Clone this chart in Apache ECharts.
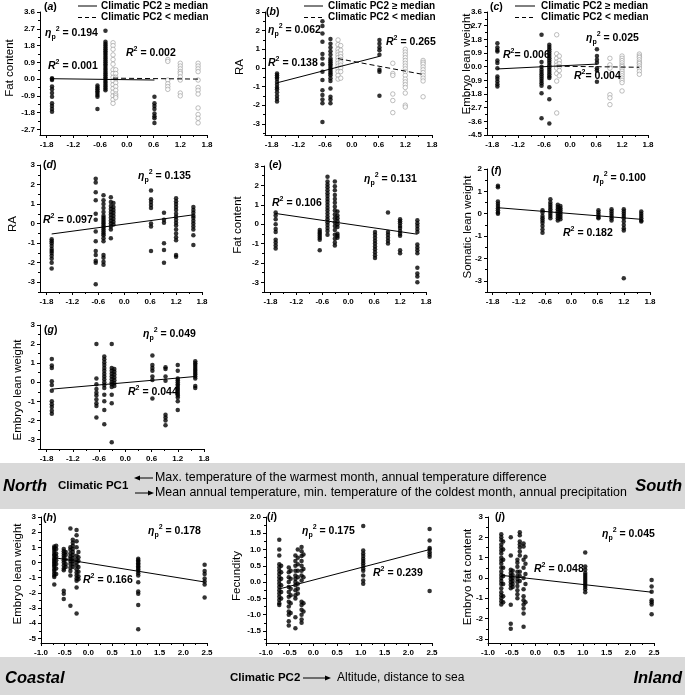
<!DOCTYPE html>
<html>
<head>
<meta charset="utf-8">
<script src="https://cdn.jsdelivr.net/npm/echarts@6.0.0/dist/echarts.min.js"></script>
<style>
html,body{margin:0;padding:0;background:#fff;}
#chart{width:685px;height:695px;}
</style>
</head>
<body>
<div id="chart"></div>
<script>
// ---------------- DATA ----------------
// Population positions along Climatic PC1 and Climatic PC2
const pc1Sites = [-1.68, -0.66, -0.48, -0.31, -0.25, 0.62, 0.92, 1.2, 1.6];
const pc2Sites = [-0.72, -0.68, -0.52, -0.48, -0.38, -0.33, -0.25, -0.21, 1.05, 2.45];

// tick labels
const xTicksPC1 = [-1.8, -1.2, -0.6, 0, 0.6, 1.2, 1.8];
const xTicksPC2 = [-1, -0.5, 0, 0.5, 1, 1.5, 2, 2.5];
const yTicksA = [-2.7, -1.8, -0.9, 0, 0.9, 1.8, 2.7, 3.6];
const yTicksB = [-3, -2, -1, 0, 1, 2, 3];
const yTicksC = [-4.5, -3.6, -2.7, -1.8, -0.9, 0, 0.9, 1.8, 2.7, 3.6];
const yTicksDEG = [-3, -2, -1, 0, 1, 2, 3];
const yTicksF = [-3, -2, -1, 0, 1, 2];
const yTicksH = [-5, -4, -3, -2, -1, 0, 1, 2, 3];
const yTicksI = [-1.5, -1.0, -0.5, 0, 0.5, 1.0, 1.5, 2.0];
const yTicksJ = [-3, -2, -1, 0, 1, 2, 3];

// (a) Fat content, split by PC2 median
const aHighX = [-1.68, -0.66, -0.48, 0.62];
const aHighY = [
  [0.05, 0.0, -0.05, -0.4, -0.55, -0.75, -0.95, -1.3, -1.45, -1.6, -1.75],
  [-0.35, -0.45, -0.55, -0.65, -0.75, -0.85, -0.95, -1.6],
  [2.6, 2.0, 1.9, 1.8, 1.7, 1.6, 1.5, 1.4, 1.3, 1.2, 1.1, 1.0, 0.9, 0.8, 0.7, 0.6, 0.5, 0.4, 0.3, 0.2, 0.1, 0.0, -0.1, -0.2, -0.3, -0.4, -0.5, -0.6],
  [-0.95, -1.3, -1.45, -1.6, -1.85, -2.0, -2.1, -2.35]
];
const aLowX = [-0.31, -0.25, 0.92, 1.2, 1.6];
const aLowY = [
  [1.95, 1.8, 1.6, 1.3, 1.05, 0.8, 0.5, 0.3, 0.1, -0.1, -0.3, -0.5, -0.7, -0.9, -1.1, -1.3],
  [0.5, 0.3, 0.1, 0.0, -0.2, -0.4, -0.6, -0.8, -0.9, -1.0],
  [1.05, 0.95, -0.05, -0.25, -0.4, -0.55],
  [0.85, 0.7, 0.55, 0.4, 0.3, 0.12, -0.05, -0.75, -0.9],
  [0.85, 0.7, 0.55, 0.4, -0.05, -0.45, -0.6, -0.8, -1.55, -1.9, -2.1, -2.35]
];
const aHighFit = [[-1.68, 0.02], [0.62, -0.05]];
const aLowFit = [[-0.31, 0.05], [1.6, 0.0]];

// (b) RA
const bHighX = [-1.68, -0.66, -0.48, 0.62];
const bHighY = [
  [-0.3, -0.4, -0.5, -0.6, -0.75, -0.9, -1.05, -1.15, -1.3, -1.5, -1.65, -1.8],
  [2.5, 2.25, 1.85, 1.4, 0.75, 0.5, 0.2, -0.2, -0.65, -1.2, -1.45, -1.7, -1.9, -2.9],
  [1.55, 1.3, 1.1, 0.9, 0.7, 0.5, 0.4, 0.3, 0.2, 0.1, 0.0, -0.1, -0.2, -0.3, -0.4, -0.55, -0.7, -1.1, -1.55, -1.7, -1.9],
  [1.5, 1.3, 1.1, 0.95, 0.7, -0.1, -0.2, -1.5]
];
const bLowX = [-0.31, -0.25, 0.92, 1.2, 1.6];
const bLowY = [
  [1.5, 1.25, 1.0, 0.85, 0.7, 0.55, 0.4, 0.25, 0.1, -0.05, -0.2, -0.4, -0.6],
  [1.2, 0.95, 0.75, 0.6, 0.45, 0.3, 0.15, 0.0, -0.2, -0.55],
  [0.25, -0.3, -0.4, -1.4, -1.75, -2.4],
  [1.0, 0.85, 0.7, 0.55, 0.4, 0.25, 0.1, -0.05, -0.2, -0.4, -0.6, -0.75, -0.9, -1.05, -1.35, -2.0, -2.1],
  [0.4, 0.3, 0.2, 0.05, -0.1, -0.25, -0.4, -0.55, -0.7, -1.55]
];
const bHighFit = [[-1.68, -0.8], [0.62, 0.62]];
const bLowFit = [[-0.31, 0.5], [1.6, -0.35]];

// (c) Embryo lean weight
const cHighX = [-1.68, -0.66, -0.48, 0.62];
const cHighY = [
  [1.55, 1.27, 1.1, 1.0, 0.4, 0.24, -0.1, -0.65, -0.8, -0.97, -1.15, -1.3],
  [2.1, 0.3, 0.0, -0.2, -0.35, -0.5, -0.65, -0.8, -0.95, -1.1, -1.25, -1.75, -3.4],
  [1.45, 1.3, 1.15, 1.0, 0.85, 0.7, 0.55, 0.4, 0.25, 0.1, -0.05, -0.2, -0.35, -0.5, -0.65, -0.75, -1.35, -2.15, -3.75],
  [1.15, 0.7, 0.45, 0.25, -0.1, -0.25, -1.0]
];
const cLowX = [-0.31, -0.25, 0.92, 1.2, 1.6];
const cLowY = [
  [2.1, 0.85, 0.55, 0.3, 0.1, -0.1, -0.45, -0.95, -3.05],
  [0.7, 0.4, 0.2, 0.0, -0.25, -0.6],
  [0.55, 0.12, -0.1, -1.85, -2.05, -2.5],
  [0.7, 0.55, 0.4, 0.25, 0.1, 0.0, -0.15, -0.3, -0.45, -0.6, -0.75, -0.9, -1.05, -1.6],
  [0.83, 0.7, 0.6, 0.45, 0.3, 0.2, 0.05, -0.1, -0.3, -0.5]
];
const cHighFit = [[-1.68, -0.15], [0.62, 0.17]];
const cLowFit = [[-0.31, 0.03], [1.6, -0.04]];

// (d) RA
const dY = [
  [-0.8, -0.9, -1.0, -1.15, -1.3, -1.4, -1.5, -1.65, -1.8, -2.0, -2.3],
  [2.3, 2.1, 1.6, 1.2, 0.5, 0.2, -0.4, -0.9, -1.4, -1.6, -1.9, -2.0, -3.1],
  [1.45, 1.2, 1.0, 0.8, 0.6, 0.4, 0.3, 0.2, 0.1, 0.0, -0.1, -0.2, -0.3, -0.4, -0.5, -0.6, -0.75, -0.9, -1.6, -1.75, -1.95, -2.1],
  [1.35, 1.1, 0.9, 0.75, 0.6, 0.45, 0.3, 0.15, 0.0, -0.15, -0.3, -0.75],
  [1.05, 0.85, 0.7, 0.55, 0.4, 0.25, 0.1, -0.05],
  [1.7, 1.25, 1.1, 0.95, 0.8, 0.0, -0.15, -1.4],
  [0.55, 0.2, 0.05, -1.0, -1.35, -2.0],
  [1.3, 1.15, 1.0, 0.85, 0.7, 0.5, 0.35, 0.2, 0.05, -0.1, -0.3, -0.5, -0.7, -0.85, -1.6, -1.7],
  [0.85, 0.7, 0.55, 0.4, 0.3, 0.15, 0.0, -0.15, -0.3, -0.6, -1.1]
];
const dFit = [[-1.68, -0.53], [1.6, 0.45]];

// (e) Fat content
const eY = [
  [0.6, 0.45, 0.25, 0.0, -0.25, -0.4, -0.8, -0.95, -1.1, -1.25],
  [-0.3, -0.4, -0.5, -0.6, -0.7, -0.8, -1.35],
  [2.45, 2.2, 2.05, 1.9, 1.75, 1.6, 1.45, 1.3, 1.15, 1.0, 0.85, 0.7, 0.55, 0.4, 0.25, 0.1, -0.05, -0.2, -0.35, -0.55],
  [2.2, 1.95, 1.75, 1.5, 1.3, 1.1, 0.9, 0.7, 0.5, 0.3, 0.1, -0.1, -0.3, -0.55, -0.75, -0.95, -1.1],
  [0.65, 0.45, 0.3, 0.15, 0.0, -0.15, -0.5, -0.6, -0.7],
  [-0.4, -0.55, -0.7, -0.85, -1.0, -1.15, -1.3, -1.45, -1.6, -1.75],
  [0.6, -0.4, -0.55, -0.7, -0.85, -1.0],
  [0.25, 0.15, 0.05, -0.1, -0.2, -0.35, -0.5, -0.6, -1.35, -1.5],
  [0.2, 0.05, -0.1, -0.25, -0.4, -1.05, -1.2, -1.35, -1.5, -2.25, -2.55, -2.7, -3.0]
];
const eFit = [[-1.68, 0.55], [1.6, -0.52]];

// (f) Somatic lean weight
const fY = [
  [1.25, 1.18, 0.55, 0.45, 0.35, 0.25, 0.15, 0.05, 0.0],
  [0.15, 0.05, -0.1, -0.2, -0.3, -0.4, -0.55, -0.7, -0.85],
  [0.65, 0.5, 0.4, 0.3, 0.2, 0.1, 0.0, -0.1, -0.2],
  [0.4, 0.3, 0.2, 0.1, 0.0, -0.1, -0.2, -0.3],
  [0.35, 0.25, 0.15, 0.05, -0.05, -0.15, -0.25],
  [0.15, 0.05, -0.05, -0.15, -0.2],
  [0.2, 0.1, 0.0, -0.1, -0.2, -0.3],
  [0.2, 0.1, 0.0, -0.1, -0.2, -0.35, -0.5, -0.65, -0.75, -2.88],
  [0.1, 0.0, -0.1, -0.2, -0.3, -0.35]
];
const fFit = [[-1.68, 0.27], [1.6, -0.25]];

// (g) Embryo lean weight
const gY = [
  [1.22, 0.88, 0.75, 0.05, -0.15, -0.45, -1.0, -1.15, -1.3, -1.5, -1.65],
  [2.0, 0.2, -0.1, -0.35, -0.55, -0.7, -0.9, -1.1, -1.25, -1.85],
  [1.35, 1.2, 1.05, 0.9, 0.75, 0.6, 0.45, 0.3, 0.15, 0.0, -0.15, -0.3, -0.65, -1.0, -1.45, -2.2],
  [2.0, 0.75, 0.6, 0.45, 0.3, 0.15, 0.0, -0.1, -0.25, -0.65, -1.1, -3.15],
  [0.7, 0.55, 0.4, 0.25, 0.1, -0.05, -0.2],
  [1.4, 0.9, 0.75, 0.6, 0.3, 0.12, -0.85],
  [0.78, 0.7, 0.3, 0.08, -1.7, -1.85, -2.0, -2.25],
  [0.9, 0.6, 0.2, 0.1, 0.0, -0.1, -0.2, -0.3, -0.4, -0.5, -0.6, -0.7, -0.8, -1.0, -1.45],
  [1.1, 1.0, 0.9, 0.8, 0.7, 0.6, 0.5, 0.4, 0.3, 0.2, -0.2, -0.3]
];
const gFit = [[-1.68, -0.36], [1.6, 0.3]];

// (h) Embryo lean weight vs PC2
const hY = [
  [1.05, 0.95, 0.85, 0.7, 0.55, 0.45, 0.3, 0.2, 0.1, 0.0, -0.1, -0.2, -0.3, -0.45, -0.55, -0.7, -0.85, -0.95, -1.45],
  [1.1, 0.9, 0.6, 0.4, 0.15, -0.1, -0.4, -0.75],
  [0.9, 0.75, 0.6, 0.45, 0.3, 0.15, 0.0, -0.2, -0.4, -0.5, -1.85, -2.05, -2.4],
  [0.7, 0.5, 0.2, -0.1, -0.3],
  [2.25, 1.0, 0.85, 0.6, 0.4, 0.25, 0.1, -0.1, -0.35, -0.55, -0.85, -2.85],
  [1.5, 1.3, 1.1, 0.9, 0.7, 0.5, 0.3, 0.1, -0.1, -0.3],
  [2.15, 1.8, 1.4, 1.0, 0.45, 0.2, 0.0, -0.2, -0.45, -0.65, -0.85, -1.05, -1.2, -1.65, -3.35],
  [0.7, 0.35, 0.1, -0.3, -0.6, -0.9, -1.1],
  [0.25, 0.15, 0.05, -0.05, -0.15, -0.25, -0.35, -0.45, -0.55, -0.7, -0.85, -1.3, -1.9, -2.05, -2.8, -4.4],
  [-0.15, -0.55, -0.75, -1.05, -1.25, -1.45, -2.3]
];
const hFit = [[-0.72, 0.32], [2.45, -1.28]];

// (i) Fecundity
const iY = [
  [1.3, 1.0, 0.82, 0.55, 0.45, 0.35, 0.25, 0.15, 0.05, -0.05, -0.15, -0.25, -0.35, -0.45, -0.55, -0.65, -0.7],
  [0.5, 0.3, 0.1, -0.1, -0.3, -0.5],
  [0.45, 0.3, 0.15, 0.0, -0.15, -0.3, -0.45, -0.6, -0.75, -0.9, -1.0, -1.2, -1.33],
  [0.35, 0.1, -0.2, -0.4, -0.65, -0.95],
  [0.82, 0.65, 0.5, 0.35, 0.2, 0.1, 0.0, -0.1, -0.25, -0.4, -0.5, -1.08, -1.42],
  [1.0, 0.75, 0.55, 0.35, 0.15, -0.05, -0.2, -0.35],
  [1.08, 0.95, 0.8, 0.65, 0.5, 0.35, 0.2, 0.05, -0.6, -0.7, -0.85, -1.0, -1.15, -1.25],
  [0.85, 0.4, 0.15, -0.65, -0.9],
  [1.72, 0.97, 0.88, 0.8, 0.72, 0.65, 0.58, 0.5, 0.42, 0.35, 0.2, 0.05, -0.05],
  [1.63, 1.28, 1.05, 1.0, 0.92, 0.85, 0.78, -0.27]
];
const iFit = [[-0.72, -0.21], [2.45, 1.0]];

// (j) Embryo fat content
const jY = [
  [2.15, 2.0, 1.85, 1.65, 1.5, 1.35, 1.2, 1.0, 0.85, 0.7, 0.5, 0.3, 0.15, 0.0, -0.15, -0.3, -0.5, -0.7, -0.85, -1.0, -1.15, -1.3],
  [1.8, 1.4, 0.9, 0.5, 0.1, -0.3, -0.9, -1.2],
  [2.0, 1.1, 0.4, 0.25, 0.1, -0.05, -0.2, -0.35, -0.5, -1.32, -2.25, -2.5],
  [0.35, 0.15, 0.0, -0.15, -0.3, -0.45],
  [0.9, 0.75, 0.55, 0.3, 0.1, -0.05, -0.2, -0.4, -0.6, -0.8, -1.0],
  [2.25, 2.1, 1.8, 1.65, 1.5, 1.3, 1.1, 0.3, 0.1, -0.15],
  [1.7, 1.55, 0.9, 0.5, 0.0, -0.55, -0.9, -1.1, -1.3, -1.5, -1.75, -2.4],
  [1.05, 0.7, 0.2, -0.3, -1.2],
  [1.25, 0.57, 0.4, 0.25, 0.15, 0.05, -0.05, -0.15, -0.25, -0.35, -0.45, -0.55, -0.7],
  [-0.1, -0.42, -0.68, -1.1, -1.2, -1.3, -1.78]
];
const jFit = [[-0.72, 0.13], [2.45, -0.7]];

// ---------------- BUILD ----------------
const FONT = "'Liberation Sans', Arial, Helvetica, sans-serif";

function cols(xs, ys) {
  const out = [];
  xs.forEach((x, i) => ys[i].forEach(y => out.push([x, y])));
  return out;
}
function minorOf(ticks, lo, hi) {
  const step = ticks[1] - ticks[0];
  const res = [];
  const first = ticks[0] - step / 2, last = ticks[ticks.length - 1] + step / 2;
  for (let v = first; v <= last + 1e-9; v += step) {
    const r = Math.round(v * 1000) / 1000;
    if (r >= lo - 1e-9 && r <= hi + 1e-9) res.push(r);
  }
  return res;
}

const panels = [
  {id: 'a', box: [40, 12, 207, 135], xr: [-1.95, 1.8], yr: [-3.0, 3.6], xt: xTicksPC1, yt: yTicksA, yd: 1,
   filled: cols(aHighX, aHighY), hollow: cols(aLowX, aLowY), fits: [[aHighFit, false], [aLowFit, true]],
   name: 'Fat content', namePos: [10, 68]},
  {id: 'b', box: [265, 12, 432, 135], xr: [-1.95, 1.8], yr: [-3.6, 3], xt: xTicksPC1, yt: yTicksB, yd: 0,
   filled: cols(bHighX, bHighY), hollow: cols(bLowX, bLowY), fits: [[bHighFit, false], [bLowFit, true]],
   name: 'RA', namePos: [240, 67]},
  {id: 'c', box: [487, 12, 648, 135], xr: [-1.92, 1.8], yr: [-4.5, 3.6], xt: xTicksPC1, yt: yTicksC, yd: 1,
   filled: cols(cHighX, cHighY), hollow: cols(cLowX, cLowY), fits: [[cHighFit, false], [cLowFit, true]],
   name: 'Embryo lean weight', namePos: [467, 64]},
  {id: 'd', box: [40, 165, 202, 292], xr: [-1.95, 1.8], yr: [-3.5, 3], xt: xTicksPC1, yt: yTicksDEG, yd: 0,
   filled: cols(pc1Sites, dY), fits: [[dFit, false]], name: 'RA', namePos: [13, 224]},
  {id: 'e', box: [264, 166, 426, 292], xr: [-1.95, 1.8], yr: [-3.5, 3], xt: xTicksPC1, yt: yTicksDEG, yd: 0,
   filled: cols(pc1Sites, eY), fits: [[eFit, false]], name: 'Fat content', namePos: [238, 225]},
  {id: 'f', box: [487, 169, 650, 292], xr: [-1.93, 1.8], yr: [-3.5, 2], xt: xTicksPC1, yt: yTicksF, yd: 0,
   filled: cols(pc1Sites, fY), fits: [[fFit, false]], name: 'Somatic lean weight', namePos: [468, 227]},
  {id: 'g', box: [40, 325, 204, 449], xr: [-1.95, 1.8], yr: [-3.5, 3], xt: xTicksPC1, yt: yTicksDEG, yd: 0,
   filled: cols(pc1Sites, gY), fits: [[gFit, false]], name: 'Embryo lean weight', namePos: [18, 390]},
  {id: 'h', box: [41, 517, 207, 643], xr: [-1, 2.5], yr: [-5.3, 3], xt: xTicksPC2, yt: yTicksH, yd: 0,
   filled: cols(pc2Sites, hY), fits: [[hFit, false]], name: 'Embryo lean weight', namePos: [18, 574]},
  {id: 'i', box: [266, 517, 432, 643], xr: [-1, 2.5], yr: [-1.87, 2], xt: xTicksPC2, yt: yTicksI, yd: 1,
   filled: cols(pc2Sites, iY), fits: [[iFit, false]], name: 'Fecundity', namePos: [237, 576]},
  {id: 'j', box: [488, 517, 654, 643], xr: [-1, 2.5], yr: [-3.2, 3], xt: xTicksPC2, yt: yTicksJ, yd: 0,
   filled: cols(pc2Sites, jY), fits: [[jFit, false]], name: 'Embryo fat content', namePos: [468, 577]}
];

const grids = [], xAxes = [], yAxes = [], series = [];
panels.forEach((p, k) => {
  const [x0, y0, x1, y1] = p.box;
  grids.push({left: x0, top: y0, width: x1 - x0, height: y1 - y0, containLabel: false});
  const labelStyle = {fontFamily: FONT, fontSize: 8, fontWeight: 'bold', color: '#000'};
  xAxes.push({
    gridIndex: k, type: 'value', min: p.xr[0], max: p.xr[1], position: 'bottom',
    axisLine: {show: true, onZero: false, lineStyle: {color: '#000', width: 1}},
    axisTick: {show: true, inside: false, length: 3, customValues: p.xt, lineStyle: {color: '#000', width: 1}},
    axisLabel: Object.assign({show: true, margin: 6, customValues: p.xt, formatter: v => Number(v).toFixed(1)}, labelStyle),
    splitLine: {show: false}
  });
  xAxes.push({
    gridIndex: k, type: 'value', min: p.xr[0], max: p.xr[1], position: 'bottom',
    axisLine: {show: false, onZero: false},
    axisTick: {show: true, inside: false, length: 2, customValues: minorOf(p.xt, p.xr[0], p.xr[1]), lineStyle: {color: '#000', width: 1}},
    axisLabel: {show: false}, splitLine: {show: false}
  });
  yAxes.push({
    gridIndex: k, type: 'value', min: p.yr[0], max: p.yr[1], position: 'left',
    axisLine: {show: true, onZero: false, lineStyle: {color: '#000', width: 1}},
    axisTick: {show: true, inside: false, length: 3, customValues: p.yt, lineStyle: {color: '#000', width: 1}},
    axisLabel: Object.assign({show: true, margin: 5, customValues: p.yt, formatter: v => Number(v).toFixed(p.yd)}, labelStyle),
    splitLine: {show: false}
  });
  yAxes.push({
    gridIndex: k, type: 'value', min: p.yr[0], max: p.yr[1], position: 'left',
    axisLine: {show: false, onZero: false},
    axisTick: {show: true, inside: false, length: 2, customValues: minorOf(p.yt, p.yr[0], p.yr[1]), lineStyle: {color: '#000', width: 1}},
    axisLabel: {show: false}, splitLine: {show: false}
  });
  if (p.hollow) {
    series.push({type: 'scatter', xAxisIndex: 2 * k, yAxisIndex: 2 * k, data: p.hollow, symbol: 'circle', symbolSize: 4.5,
      itemStyle: {color: '#fff', borderColor: '#999', borderWidth: 0.8}, silent: true, z: 2});
  }
  series.push({type: 'scatter', xAxisIndex: 2 * k, yAxisIndex: 2 * k, data: p.filled, symbol: 'circle', symbolSize: 4.5,
    itemStyle: {color: '#000'}, silent: true, z: 3});
  p.fits.forEach(([d, dashed]) => {
    series.push({type: 'line', xAxisIndex: 2 * k, yAxisIndex: 2 * k, data: d, symbol: 'none', silent: true, z: 4,
      lineStyle: {color: '#000', width: 1, type: dashed ? [5, 3] : 'solid'}});
  });
});

// ----- annotations -----
const RICH = {
  n: {fontFamily: FONT, fontSize: 10.5, fontWeight: 'bold', fill: '#000', lineHeight: 15},
  i: {fontFamily: FONT, fontSize: 10.5, fontWeight: 'bold', fontStyle: 'italic', fill: '#000', lineHeight: 15},
  sup: {fontFamily: FONT, fontSize: 7, fontWeight: 'bold', fill: '#000', verticalAlign: 'top'},
  sub: {fontFamily: FONT, fontSize: 7, fontWeight: 'bold', fill: '#000', verticalAlign: 'bottom'}
};
function rtext(x, y, text) {
  return {type: 'text', x: x, y: y, silent: true, z: 10,
    style: {text: text, rich: RICH, fontFamily: FONT, fontSize: 10.5, fill: '#000', align: 'left', verticalAlign: 'middle'}};
}
function ptext(x, y, text, font, align, extra) {
  return {type: 'text', x: x, y: y, silent: true, z: 10,
    style: Object.assign({text: text, font: font, fill: '#000', align: align || 'left', verticalAlign: 'middle'}, extra || {})};
}
const eta = v => `{i|η}{sub|p}{sup|2}{n| = ${v}}`;
const rsq = (v, sp) => `{i|R}{sup|2}{n|${sp === undefined ? ' ' : sp}= ${v}}`;
const lett = l => `{n|(}{i|${l}}{n|)}`;

const annot = [
  ['a', [44, 7], [45, 33], [[48, 66, '0.001'], [126, 53, '0.002']], ' ', '0.194'],
  ['b', [266, 12], [268, 30], [[268, 63, '0.138'], [386, 42, '0.265']], ' ', '0.062'],
  ['c', [490, 7], [586, 38], [[503, 55, '0.006'], [574, 76, '0.004']], '', '0.025'],
  ['d', [43, 165], [138, 176], [[43, 220, '0.097']], ' ', '0.135'],
  ['e', [269, 165], [364, 179], [[272, 203, '0.106']], ' ', '0.131'],
  ['f', [491, 171], [593, 178], [[563, 233, '0.182']], ' ', '0.100'],
  ['g', [44, 330], [143, 334], [[128, 392, '0.044']], ' ', '0.049'],
  ['h', [43, 518], [148, 531], [[83, 580, '0.166']], ' ', '0.178'],
  ['i', [267, 517], [302, 531], [[373, 573, '0.239']], ' ', '0.175'],
  ['j', [495, 517], [602, 534], [[534, 569, '0.048']], ' ', '0.045']
];

const graphics = [];
// bands
graphics.push({type: 'rect', shape: {x: 0, y: 463, width: 685, height: 46}, style: {fill: '#d9d9d9'}, silent: true, z: 0});
graphics.push({type: 'rect', shape: {x: 0, y: 657, width: 685, height: 38}, style: {fill: '#d9d9d9'}, silent: true, z: 0});

annot.forEach(([l, lp, ep, rs, sp, ev]) => {
  graphics.push(rtext(lp[0], lp[1], lett(l)));
  graphics.push(rtext(ep[0], ep[1], eta(ev)));
  rs.forEach(([x, y, v]) => graphics.push(rtext(x, y, rsq(v, sp))));
});

// y-axis names
panels.forEach(p => {
  graphics.push({type: 'text', x: p.namePos[0], y: p.namePos[1], rotation: Math.PI / 2, silent: true, z: 10,
    style: {text: p.name, font: `11.5px ${FONT}`, fill: '#000', align: 'center', verticalAlign: 'middle'}});
});

// in-panel legends (a, b, c)
const legendRows = [[6, false, 'Climatic PC2 ≥ median'], [17.5, true, 'Climatic PC2 < median']];
[[78, 97, 101], [304, 323, 328], [515, 535, 541]].forEach(([lx0, lx1, tx]) => {
  legendRows.forEach(([y, dashed, label]) => {
    graphics.push({type: 'line', shape: {x1: lx0, y1: y, x2: lx1, y2: y}, silent: true, z: 10,
      style: {stroke: '#000', lineWidth: 1, lineDash: dashed ? [4, 3] : null}});
    graphics.push(ptext(tx, y, label, `bold 10px ${FONT}`));
  });
});

// band 1 texts
graphics.push(ptext(3, 486, 'North', `italic bold 16.5px ${FONT}`));
graphics.push(ptext(58, 486, 'Climatic PC1', `bold 11.5px ${FONT}`));
graphics.push(ptext(155, 478, 'Max. temperature of the warmest month, annual temperature difference', `12.4px ${FONT}`));
graphics.push(ptext(155, 493, 'Mean annual temperature, min. temperature of the coldest month, annual precipitation', `12.4px ${FONT}`));
graphics.push(ptext(682, 486, 'South', `italic bold 16.5px ${FONT}`, 'right'));
// arrows
function arrow(xFrom, xTo, y) {
  const dir = xTo > xFrom ? 1 : -1;
  graphics.push({type: 'line', shape: {x1: xFrom, y1: y, x2: xTo - dir * 4, y2: y}, style: {stroke: '#000', lineWidth: 1}, silent: true, z: 10});
  graphics.push({type: 'polygon', shape: {points: [[xTo, y], [xTo - dir * 6, y - 2.5], [xTo - dir * 6, y + 2.5]]}, style: {fill: '#000'}, silent: true, z: 10});
}
arrow(153, 134, 478);
arrow(135, 154, 493);
// band 2 texts
graphics.push(ptext(5, 678, 'Coastal', `italic bold 16.5px ${FONT}`));
graphics.push(ptext(230, 678, 'Climatic PC2', `bold 11.5px ${FONT}`));
arrow(303, 331, 678);
graphics.push(ptext(337, 678, 'Altitude, distance to sea', `12px ${FONT}`));
graphics.push(ptext(682, 678, 'Inland', `italic bold 16.5px ${FONT}`, 'right'));

const chart = echarts.init(document.getElementById('chart'), null, {renderer: 'canvas', width: 685, height: 695});
chart.setOption({
  animation: false,
  backgroundColor: '#fff',
  grid: grids,
  xAxis: xAxes,
  yAxis: yAxes,
  series: series,
  graphic: {elements: graphics}
});
</script>
</body>
</html>
